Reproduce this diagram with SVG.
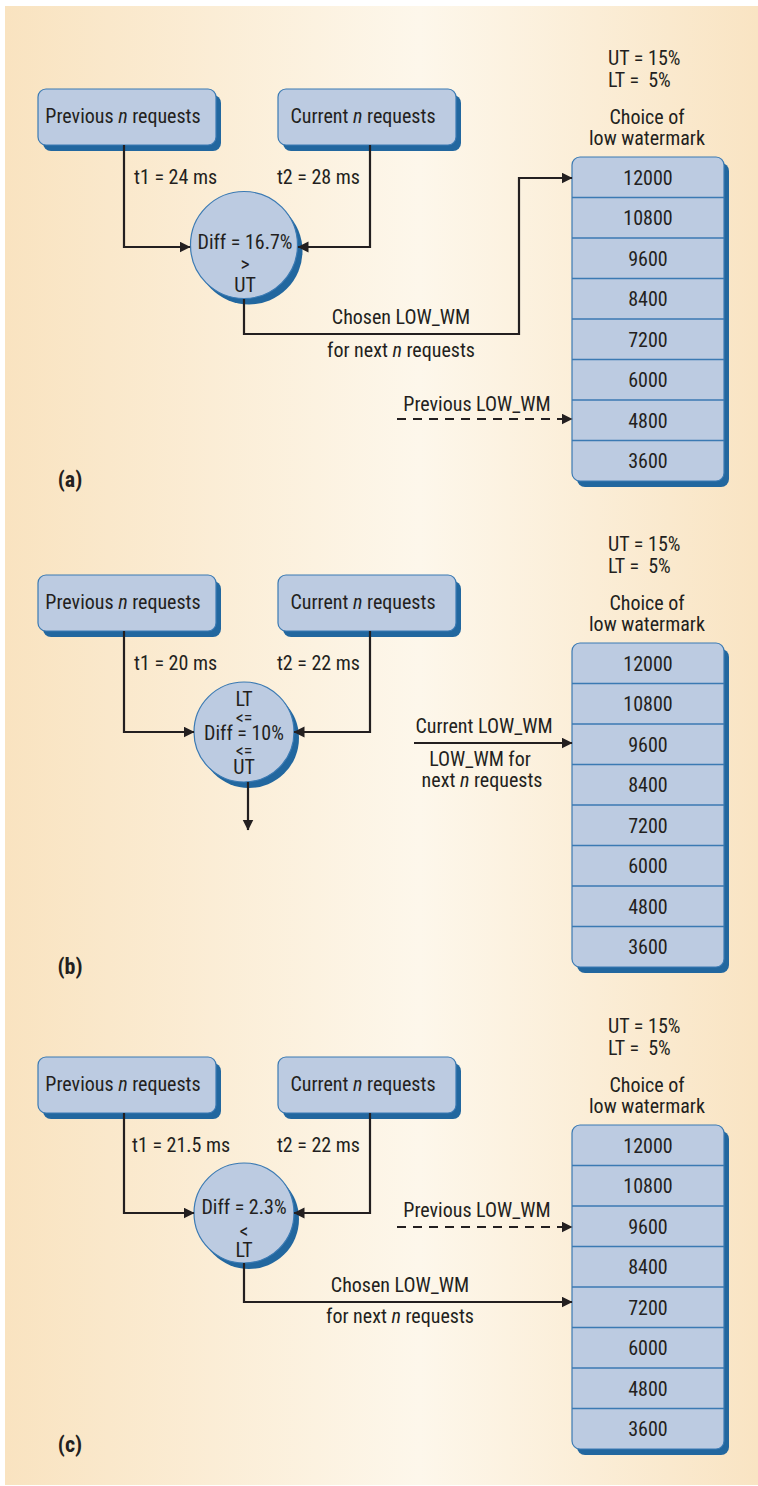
<svg xmlns="http://www.w3.org/2000/svg" width="758" height="1486" viewBox="0 0 758 1486">
<defs>
<linearGradient id="bg" x1="0" y1="0" x2="1" y2="0">
<stop offset="0" stop-color="#f9e3c0"/>
<stop offset="0.55" stop-color="#fdf7eb"/>
<stop offset="1" stop-color="#f9e4c3"/>
</linearGradient>
<marker id="ah" markerWidth="12" markerHeight="12" refX="10.5" refY="5.5" orient="auto" markerUnits="userSpaceOnUse">
<path d="M0,0 L11,5.5 L0,11 z" fill="#231f20"/>
</marker>
<style>
.bx{fill:#bccbe1;stroke:#3b7ab3;stroke-width:1.2}
.sh{fill:#22679f}
.t{font-family:"Liberation Sans Narrow","Arial Narrow","Roboto Condensed","Liberation Sans",sans-serif;font-size:20px;fill:#231f20}
.s{font-size:18px}
.m{text-anchor:middle}
.e{text-anchor:end}
.b{font-weight:bold;font-size:22px}
.i{font-style:italic}
.ln{fill:none;stroke:#231f20;stroke-width:2.2}
.ds{stroke-dasharray:9 7}
.rl{stroke:#3b7ab3;stroke-width:1.5}
</style>
</defs>
<rect x="5" y="6" width="753" height="1479" fill="url(#bg)"/>

<!-- ========== (a) ========== -->
<g id="sectionA">
<g id="a-prev">
<rect class="sh" x="43" y="95" width="178" height="56" rx="8"/>
<rect class="bx" x="38" y="89" width="178" height="56" rx="8"/>
<text class="t m" x="123" y="123">Previous <tspan class="i">n</tspan> requests</text>
</g>
<g id="a-curr">
<rect class="sh" x="283" y="95" width="178" height="56" rx="8"/>
<rect class="bx" x="278" y="89" width="178" height="56" rx="8"/>
<text class="t m" x="363" y="123">Current <tspan class="i">n</tspan> requests</text>
</g>
<g id="a-diff">
<circle class="sh" cx="249" cy="251" r="53.5"/>
<circle class="bx" cx="244" cy="245" r="53.5"/>
<text class="t m" x="245" y="249">Diff = 16.7%</text>
<text class="t m" x="245" y="271">&gt;</text>
<text class="t m" x="245" y="292">UT</text>
</g>
<g id="a-table">
<text class="t" x="608" y="65">UT = 15%</text>
<text class="t" x="608" y="87">LT =&#160; 5%</text>
<text class="t m" x="647" y="124">Choice of</text>
<text class="t m" x="647" y="145">low watermark</text>
<rect class="sh" x="577" y="163" width="152" height="324" rx="8"/>
<rect class="bx" x="572" y="157" width="152" height="324" rx="8"/>
<path class="rl" d="M572,197.5H724M572,238H724M572,278.5H724M572,319H724M572,359.5H724M572,400H724M572,440.5H724"/>
<text class="t m" x="648" y="184.5">12000</text>
<text class="t m" x="648" y="225">10800</text>
<text class="t m" x="648" y="265.5">9600</text>
<text class="t m" x="648" y="306">8400</text>
<text class="t m" x="648" y="346.5">7200</text>
<text class="t m" x="648" y="387">6000</text>
<text class="t m" x="648" y="427.5">4800</text>
<text class="t m" x="648" y="468">3600</text>
</g>
<g id="a-connectors">
<path class="ln" d="M124,145V247H190" marker-end="url(#ah)"/>
<path class="ln" d="M370,145V247H298" marker-end="url(#ah)"/>
<path class="ln" d="M244,299V334H519V178H572" marker-end="url(#ah)"/>
<path class="ln ds" d="M397,419H572" marker-end="url(#ah)"/>
<text class="t" x="134" y="184">t1 = 24 ms</text>
<text class="t e" x="360" y="184">t2 = 28 ms</text>
<text class="t m" x="401" y="324">Chosen LOW_WM</text>
<text class="t m" x="401" y="357">for next <tspan class="i">n</tspan> requests</text>
<text class="t m" x="477" y="411">Previous LOW_WM</text>
</g>
<text class="t b m" x="70" y="487">(a)</text>
</g>

<!-- ========== (b) ========== -->
<g id="sectionB" transform="translate(0,486)">
<g id="b-prev">
<rect class="sh" x="43" y="95" width="178" height="56" rx="8"/>
<rect class="bx" x="38" y="89" width="178" height="56" rx="8"/>
<text class="t m" x="123" y="123">Previous <tspan class="i">n</tspan> requests</text>
</g>
<g id="b-curr">
<rect class="sh" x="283" y="95" width="178" height="56" rx="8"/>
<rect class="bx" x="278" y="89" width="178" height="56" rx="8"/>
<text class="t m" x="363" y="123">Current <tspan class="i">n</tspan> requests</text>
</g>
<g id="b-diff">
<circle class="sh" cx="249" cy="252" r="50"/>
<circle class="bx" cx="244" cy="246" r="50"/>
<text class="t m" x="244" y="220">LT</text>
<text class="t s m" x="244" y="238">&lt;=</text>
<text class="t m" x="244" y="254">Diff = 10%</text>
<text class="t s m" x="244" y="271">&lt;=</text>
<text class="t m" x="244" y="288">UT</text>
</g>
<g id="b-table">
<text class="t" x="608" y="65">UT = 15%</text>
<text class="t" x="608" y="87">LT =&#160; 5%</text>
<text class="t m" x="647" y="124">Choice of</text>
<text class="t m" x="647" y="145">low watermark</text>
<rect class="sh" x="577" y="163" width="152" height="324" rx="8"/>
<rect class="bx" x="572" y="157" width="152" height="324" rx="8"/>
<path class="rl" d="M572,197.5H724M572,238H724M572,278.5H724M572,319H724M572,359.5H724M572,400H724M572,440.5H724"/>
<text class="t m" x="648" y="184.5">12000</text>
<text class="t m" x="648" y="225">10800</text>
<text class="t m" x="648" y="265.5">9600</text>
<text class="t m" x="648" y="306">8400</text>
<text class="t m" x="648" y="346.5">7200</text>
<text class="t m" x="648" y="387">6000</text>
<text class="t m" x="648" y="427.5">4800</text>
<text class="t m" x="648" y="468">3600</text>
</g>
<g id="b-connectors">
<path class="ln" d="M124,145V246H194" marker-end="url(#ah)"/>
<path class="ln" d="M370,145V246H294" marker-end="url(#ah)"/>
<path class="ln" d="M248,296V344" marker-end="url(#ah)"/>
<path class="ln" d="M414,257H572" marker-end="url(#ah)"/>
<text class="t" x="134" y="184">t1 = 20 ms</text>
<text class="t e" x="360" y="184">t2 = 22 ms</text>
<text class="t m" x="484" y="247">Current LOW_WM</text>
<text class="t m" x="480" y="280">LOW_WM for</text>
<text class="t m" x="482" y="301">next <tspan class="i">n</tspan> requests</text>
</g>
<text class="t b m" x="70" y="488">(b)</text>
</g>

<!-- ========== (c) ========== -->
<g id="sectionC" transform="translate(0,968)">
<g id="c-prev">
<rect class="sh" x="43" y="95" width="178" height="56" rx="8"/>
<rect class="bx" x="38" y="89" width="178" height="56" rx="8"/>
<text class="t m" x="123" y="123">Previous <tspan class="i">n</tspan> requests</text>
</g>
<g id="c-curr">
<rect class="sh" x="283" y="95" width="178" height="56" rx="8"/>
<rect class="bx" x="278" y="89" width="178" height="56" rx="8"/>
<text class="t m" x="363" y="123">Current <tspan class="i">n</tspan> requests</text>
</g>
<g id="c-diff">
<circle class="sh" cx="249" cy="251" r="50"/>
<circle class="bx" cx="244" cy="245" r="50"/>
<text class="t m" x="244" y="246">Diff = 2.3%</text>
<text class="t m" x="244" y="270">&lt;</text>
<text class="t m" x="244" y="289">LT</text>
</g>
<g id="c-table">
<text class="t" x="608" y="65">UT = 15%</text>
<text class="t" x="608" y="87">LT =&#160; 5%</text>
<text class="t m" x="647" y="124">Choice of</text>
<text class="t m" x="647" y="145">low watermark</text>
<rect class="sh" x="577" y="163" width="152" height="324" rx="8"/>
<rect class="bx" x="572" y="157" width="152" height="324" rx="8"/>
<path class="rl" d="M572,197.5H724M572,238H724M572,278.5H724M572,319H724M572,359.5H724M572,400H724M572,440.5H724"/>
<text class="t m" x="648" y="184.5">12000</text>
<text class="t m" x="648" y="225">10800</text>
<text class="t m" x="648" y="265.5">9600</text>
<text class="t m" x="648" y="306">8400</text>
<text class="t m" x="648" y="346.5">7200</text>
<text class="t m" x="648" y="387">6000</text>
<text class="t m" x="648" y="427.5">4800</text>
<text class="t m" x="648" y="468">3600</text>
</g>
<g id="c-connectors">
<path class="ln" d="M124,145V245H194" marker-end="url(#ah)"/>
<path class="ln" d="M370,145V245H294" marker-end="url(#ah)"/>
<path class="ln" d="M244,295V334H572" marker-end="url(#ah)"/>
<path class="ln ds" d="M397,259H572" marker-end="url(#ah)"/>
<text class="t" x="132" y="184">t1 = 21.5 ms</text>
<text class="t e" x="360" y="184">t2 = 22 ms</text>
<text class="t m" x="400" y="324">Chosen LOW_WM</text>
<text class="t m" x="400" y="355">for next <tspan class="i">n</tspan> requests</text>
<text class="t m" x="477" y="249">Previous LOW_WM</text>
</g>
<text class="t b m" x="70" y="484">(c)</text>
</g>
</svg>
